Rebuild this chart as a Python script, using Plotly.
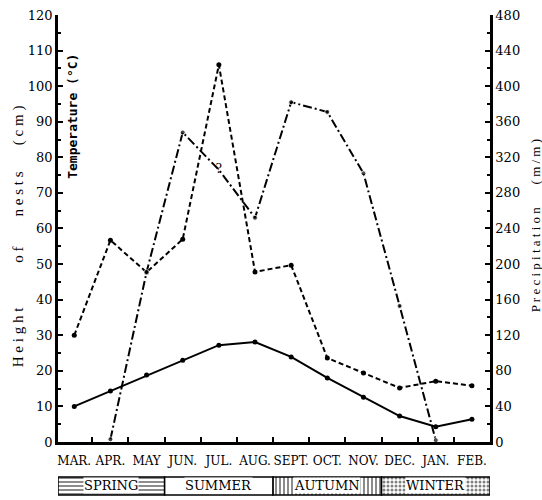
import plotly.graph_objects as go

months = ["MAR.", "APR.", "MAY", "JUN.", "JUL.", "AUG.", "SEPT.", "OCT.", "NOV.", "DEC.", "JAN.", "FEB."]
temperature = [10, 14.3, 18.8, 23, 27.2, 28.1, 23.9, 18, 12.6, 7.3, 4.3, 6.4]
nest_height = [30, 56.7, 47.7, 57, 106, 47.8, 49.7, 23.6, 19.4, 15.2, 17.1, 15.8]
precipitation = [None, 3, 191, 348, 306, 252, 382, 371, 302, 153, 2, None]
precip_marks = ["", "", "", "", "?", "", "", "", "", "", "", ""]
seasons = ["SPRING", "SUMMER", "AUTUMN", "WINTER"]
season_start = [-0.45, 2.5, 5.5, 8.5]
season_len = [2.95, 3.0, 3.0, 3.0]
season_pattern = ["-", "", "|", "."]

xs = list(range(len(months)))
SERIF = "Liberation Serif, DejaVu Serif, serif"
DSERIF = "DejaVu Serif, serif"


def spaced(word):
    return " ".join(word)


NB = "&nbsp;"

fig = go.Figure()

fig.add_trace(go.Scatter(
    x=xs, y=temperature, mode="lines+markers",
    line=dict(color="black", width=2),
    marker=dict(color="black", size=5), yaxis="y", showlegend=False))

fig.add_trace(go.Scatter(
    x=xs, y=nest_height, mode="lines+markers",
    line=dict(color="black", width=2, dash="5px,3px"),
    marker=dict(color="black", size=5), yaxis="y", showlegend=False))

fig.add_trace(go.Scatter(
    x=xs, y=precipitation, mode="lines+markers+text",
    text=precip_marks, textposition="middle center",
    textfont=dict(family=SERIF, size=14, color="black"),
    line=dict(color="black", width=2, dash="9px,3px,2px,3px"),
    marker=dict(color="black", size=[0 if t else 5 for t in precip_marks]),
    yaxis="y2", connectgaps=False, showlegend=False))

for name, start, ln, pat in zip(seasons, season_start, season_len, season_pattern):
    fig.add_trace(go.Bar(
        y=[0], x=[ln], base=[start], orientation="h", yaxis="y3", xaxis="x",
        width=0.9,
        marker=dict(color="white",
                    line=dict(color="black", width=1.5),
                    pattern=dict(shape=pat, fgcolor="black", bgcolor="white",
                                 size=4, solidity=0.45)),
        showlegend=False, hoverinfo="skip"))
    fig.add_annotation(x=start + ln / 2, y=0, xref="x", yref="y3",
                       text=name, showarrow=False, bgcolor="white",
                       borderpad=0, yanchor="middle",
                       font=dict(family=DSERIF, size=13, color="black"))

fig.update_layout(
    width=542, height=500,
    margin=dict(l=58, r=52, t=15, b=4, autoexpand=False),
    plot_bgcolor="white", paper_bgcolor="white",
    barmode="overlay",
    font=dict(family=SERIF, color="black"),
    xaxis=dict(range=[-0.45, 11.5], tickvals=xs, ticktext=months,
               tickangle=0, ticks="", showgrid=False, zeroline=False,
               showline=True, linecolor="black", linewidth=2.5,
               anchor="y", ticklabelstandoff=6, automargin=False,
               tickfont=dict(family=DSERIF, size=12, color="black"),
               minor=dict(tickvals=[i + 0.5 for i in xs[:-1]], ticks="inside",
                          ticklen=5, tickcolor="black", tickwidth=1.5)),
    yaxis=dict(domain=[0.1123, 1.0], range=[0, 120], dtick=10,
               ticks="inside", ticklen=5, tickwidth=2, tickcolor="black",
               showgrid=False, zeroline=False, showline=True,
               linecolor="black", linewidth=2.5, automargin=False,
               tickfont=dict(family=DSERIF, size=13, color="black"),
               minor=dict(dtick=5, ticks="inside", ticklen=3, tickcolor="black")),
    yaxis2=dict(domain=[0.1123, 1.0], range=[0, 480], dtick=40,
                overlaying="y", side="right", anchor="x",
                ticks="inside", ticklen=5, tickwidth=2, tickcolor="black",
                showgrid=False, zeroline=False, showline=True,
                linecolor="black", linewidth=2.5, automargin=False,
                tickfont=dict(family=DSERIF, size=13, color="black"),
                minor=dict(dtick=20, ticks="inside", ticklen=3, tickcolor="black")),
    yaxis3=dict(domain=[0, 0.0416], range=[-0.5, 0.5], anchor="x",
                showticklabels=False, showgrid=False, zeroline=False,
                showline=False, ticks="", automargin=False),
)

left_title = (spaced("Height") + NB * 12 + spaced("of") + NB * 8 +
              spaced("nests") + NB * 7 + spaced("(cm)"))
fig.add_annotation(xref="paper", yref="paper", x=-0.0926, y=0.54,
                   text=left_title, textangle=-90, showarrow=False,
                   xanchor="center", yanchor="middle",
                   font=dict(family=SERIF, size=15, color="black"))
fig.add_annotation(xref="paper", yref="paper", x=0.032, y=0.79,
                   text="<b>Temperature" + NB + "(°C)</b>", textangle=-90,
                   showarrow=False, xanchor="center", yanchor="middle",
                   font=dict(family="DejaVu Sans Mono", size=13, color="black"))
right_title = spaced("Precipitation") + NB * 7 + spaced("(m/m)")
fig.add_annotation(xref="paper", yref="paper", x=1.104, y=0.563,
                   text=right_title, textangle=-90,
                   showarrow=False, xanchor="center", yanchor="middle",
                   font=dict(family=SERIF, size=13, color="black"))

fig.write_html("out.html", post_script="document.body.style.margin='0';",
               config={"displayModeBar": False})
